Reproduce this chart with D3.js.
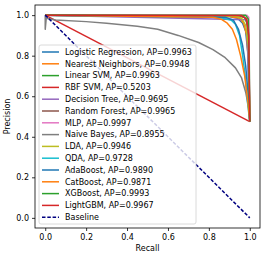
<!DOCTYPE html>
<html>
<head>
<meta charset="utf-8">
<script src="https://cdn.jsdelivr.net/npm/d3@7"></script>
<style>
  body { margin: 0; background: #fff; }
  text { font-family: "DejaVu Sans", sans-serif; }
</style>
</head>
<body>
<svg id="chart"></svg>
<script>
// model names and average precision scores
const models = ["Logistic Regression", "Nearest Neighbors", "Linear SVM", "RBF SVM",
  "Decision Tree", "Random Forest", "MLP", "Naive Bayes", "LDA", "QDA",
  "AdaBoost", "CatBoost", "XGBoost", "LightGBM"];
const apScores = ["0.9963", "0.9948", "0.9963", "0.5203", "0.9695", "0.9965", "0.9997",
  "0.8955", "0.9946", "0.9728", "0.9890", "0.9871", "0.9993", "0.9967"];

// precision-recall points
const lrRecall = [0, 0.5, 0.9, 0.94, 0.965, 0.98, 0.99, 1];
const lrPrecision = [1, 0.997, 0.993, 0.985, 0.96, 0.92, 0.82, 0.475];
const knnRecall = [0, 0.9, 0.95, 0.97, 0.985, 0.995, 1];
const knnPrecision = [1, 0.993, 0.985, 0.96, 0.9, 0.75, 0.475];
const linSvmRecall = [0, 0.95, 0.975, 0.99, 0.997, 1];
const linSvmPrecision = [1, 0.997, 0.99, 0.95, 0.85, 0.475];
const rbfRecall = [0, 1];
const rbfPrecision = [1, 0.475];
const dtRecall = [0, 0.985, 1];
const dtPrecision = [1, 0.977, 0.475];
const rfRecall = [0, 0.95, 0.98, 0.993, 1];
const rfPrecision = [1, 0.997, 0.985, 0.93, 0.475];
const mlpRecall = [0, 0.985, 0.995, 1];
const mlpPrecision = [1, 1, 0.99, 0.475];
const nbRecall = [0, 0, 0.005, 0.05, 0.2, 0.3, 0.45, 0.55, 0.65, 0.75, 0.82, 0.88, 0.93, 0.96, 0.98, 0.995, 1];
const nbPrecision = [1, 0.93, 0.985, 0.976, 0.968, 0.96, 0.945, 0.93, 0.9, 0.865, 0.83, 0.79, 0.74, 0.69, 0.62, 0.54, 0.475];
const ldaRecall = [0, 0.93, 0.96, 0.98, 0.993, 1];
const ldaPrecision = [1, 0.995, 0.985, 0.95, 0.85, 0.475];
const qdaRecall = [0, 0.85, 0.91, 0.93, 0.95, 0.965, 0.98, 0.99, 1];
const qdaPrecision = [1, 0.99, 0.975, 0.955, 0.9, 0.8, 0.68, 0.56, 0.475];
const adaRecall = [0, 0.88, 0.92, 0.945, 0.965, 0.98, 0.993, 1];
const adaPrecision = [1, 0.99, 0.975, 0.93, 0.85, 0.75, 0.6, 0.475];
const catRecall = [0, 0.82, 0.86, 0.89, 0.915, 0.935, 0.955, 0.975, 0.99, 1];
const catPrecision = [1, 0.99, 0.98, 0.96, 0.93, 0.88, 0.8, 0.7, 0.58, 0.475];
const xgbRecall = [0, 0.98, 0.993, 1];
const xgbPrecision = [1, 0.999, 0.98, 0.475];
const lgbmRecall = [0, 0.96, 0.985, 0.995, 1];
const lgbmPrecision = [1, 0.998, 0.98, 0.9, 0.475];

const baselineRecall = [0, 1];
const baselinePrecision = [1, 0];

const tickValues = [0, 0.2, 0.4, 0.6, 0.8, 1.0];

const recalls = [lrRecall, knnRecall, linSvmRecall, rbfRecall, dtRecall, rfRecall, mlpRecall,
  nbRecall, ldaRecall, qdaRecall, adaRecall, catRecall, xgbRecall, lgbmRecall];
const precisions = [lrPrecision, knnPrecision, linSvmPrecision, rbfPrecision, dtPrecision,
  rfPrecision, mlpPrecision, nbPrecision, ldaPrecision, qdaPrecision, adaPrecision,
  catPrecision, xgbPrecision, lgbmPrecision];

const palette = ["#1f77b4", "#ff7f0e", "#2ca02c", "#d62728", "#9467bd", "#8c564b",
  "#e377c2", "#7f7f7f", "#bcbd22", "#17becf"];

const width = 266, height = 259;
const margin = { top: 5, right: 6, bottom: 31, left: 35 };

const svg = d3.select("#chart").attr("width", width).attr("height", height);

const x = d3.scaleLinear().domain([-0.05, 1.05]).range([margin.left, width - margin.right]);
const y = d3.scaleLinear().domain([-0.05, 1.05]).range([height - margin.bottom, margin.top]);

const line = d3.line().x(d => x(d[0])).y(d => y(d[1]));

const plot = svg.append("g");

models.forEach((m, i) => {
  const pts = recalls[i].map((r, k) => [r, precisions[i][k]]);
  plot.append("path")
    .datum(pts)
    .attr("d", line)
    .attr("fill", "none")
    .attr("stroke", palette[i % 10])
    .attr("stroke-width", 1.5)
    .attr("stroke-linejoin", "round");
});

plot.append("path")
  .datum(baselineRecall.map((r, k) => [r, baselinePrecision[k]]))
  .attr("d", line)
  .attr("fill", "none")
  .attr("stroke", "navy")
  .attr("stroke-width", 1.5)
  .attr("stroke-dasharray", "3.5,1.8");

// axes
const xAxis = svg.append("g")
  .attr("transform", `translate(0, ${height - margin.bottom})`)
  .call(d3.axisBottom(x).tickValues(tickValues).tickFormat(d3.format(".1f")).tickSize(3).tickPadding(3));
const yAxis = svg.append("g")
  .attr("transform", `translate(${margin.left}, 0)`)
  .call(d3.axisLeft(y).tickValues(tickValues).tickFormat(d3.format(".1f")).tickSize(3).tickPadding(3));

[xAxis, yAxis].forEach(a => {
  a.select(".domain").remove();
  a.selectAll("text").attr("font-size", 8).attr("font-family", "DejaVu Sans").attr("fill", "#000");
  a.selectAll("line").attr("stroke", "#000").attr("stroke-width", 0.8);
});

svg.append("rect")
  .attr("x", margin.left)
  .attr("y", margin.top)
  .attr("width", width - margin.left - margin.right)
  .attr("height", height - margin.top - margin.bottom)
  .attr("fill", "none")
  .attr("stroke", "#000")
  .attr("stroke-width", 0.8);

svg.append("text")
  .attr("x", (margin.left + width - margin.right) / 2)
  .attr("y", 251)
  .attr("text-anchor", "middle")
  .attr("font-size", 8)
  .text("Recall");

svg.append("text")
  .attr("transform", `translate(10, ${(margin.top + height - margin.bottom) / 2}) rotate(-90)`)
  .attr("text-anchor", "middle")
  .attr("font-size", 8)
  .text("Precision");

// legend
const legend = svg.append("g");
const rowH = 11.8, legX = 39, legY = 45;
legend.append("rect")
  .attr("x", legX)
  .attr("y", legY)
  .attr("width", 157)
  .attr("height", 179)
  .attr("rx", 2)
  .attr("fill", "#fff")
  .attr("fill-opacity", 0.8)
  .attr("stroke", "#d0d0d0")
  .attr("stroke-width", 0.8);

const labels = models.map((m, i) => `${m}, AP=${apScores[i]}`).concat(["Baseline"]);
labels.forEach((lab, i) => {
  const cy = 52 + i * rowH;
  const ln = legend.append("line")
    .attr("x1", 42).attr("x2", 59)
    .attr("y1", cy).attr("y2", cy)
    .attr("stroke-width", 1.5);
  if (i < models.length) {
    ln.attr("stroke", palette[i % 10]);
  } else {
    ln.attr("stroke", "navy").attr("stroke-dasharray", "3.5,1.8");
  }
  legend.append("text")
    .attr("x", 65)
    .attr("y", cy)
    .attr("dy", "0.35em")
    .attr("font-size", 8)
    .text(lab);
});
</script>
</body>
</html>
